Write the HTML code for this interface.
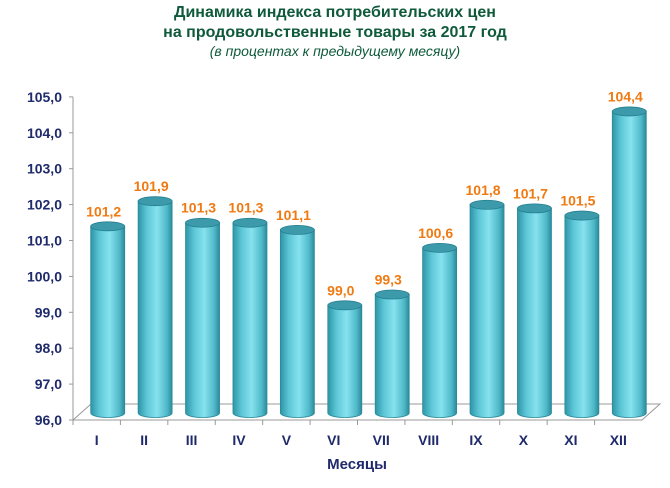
<!DOCTYPE html>
<html><head><meta charset="utf-8"><style>
body{margin:0;background:#fff;}
svg text{font-family:"Liberation Sans",sans-serif;}
</style></head><body>
<svg width="670" height="483">
<defs>
<linearGradient id="cyl" x1="0" x2="1" y1="0" y2="0">
<stop offset="0" stop-color="#2d95a5"/><stop offset="0.25" stop-color="#5cc6d6"/>
<stop offset="0.55" stop-color="#86e2ee"/><stop offset="0.85" stop-color="#4fb8c8"/>
<stop offset="1" stop-color="#2a8a9a"/></linearGradient>
</defs>
<text x="335" y="17" text-anchor="middle" font-size="16" font-weight="bold" fill="#0e5a3a">Динамика индекса потребительских цен</text>
<text x="335" y="37" text-anchor="middle" font-size="16" font-weight="bold" fill="#0e5a3a">на продовольственные товары за 2017 год</text>
<text x="335" y="56" text-anchor="middle" font-size="14" font-style="italic" fill="#0e5a3a">(в процентах к предыдущему месяцу)</text>
<g id="axes"></g>
<g id="bars"></g>
<text x="357" y="469" text-anchor="middle" font-size="15" font-weight="bold" fill="#1f2a6b">Месяцы</text>
</svg>
<script>
const categories=["I","II","III","IV","V","VI","VII","VIII","IX","X","XI","XII"];
const values=[101.2,101.9,101.3,101.3,101.1,99.0,99.3,100.6,101.8,101.7,101.5,104.4];
const labels=["101,2","101,9","101,3","101,3","101,1","99,0","99,3","100,6","101,8","101,7","101,5","104,4"];
const yTicks=[96,97,98,99,100,101,102,103,104,105];
const NS="http://www.w3.org/2000/svg";
const x0=73,x1=642,yMin=96,yMax=105,dx=18,dy=-16;
const cw=(x1-x0)/categories.length;
const yFront=v=>420-(v-yMin)*35.9;
const yBack=v=>yFront(v)-7;
function mk(tag,attrs,parent){const e=document.createElementNS(NS,tag);for(const k in attrs)e.setAttribute(k,attrs[k]);parent.appendChild(e);return e;}
const ax=document.getElementById('axes'),bars=document.getElementById('bars');
let floor=mk('polygon',{points:`${x0},420 ${x1},420 ${x1+dx},${420+dy} ${x0+dx},${420+dy}`,fill:'none',stroke:'#999','stroke-width':1},ax);


let yl=mk('line',{x1:x0,y1:yFront(yMax),x2:x0,y2:420,stroke:'#999'},ax);


yTicks.forEach(t=>{
 const tx=mk('text',{x:62,y:yFront(t)+5,'text-anchor':'end','font-size':14,'font-weight':'bold',fill:'#1f2a6b'},ax);
 tx.textContent=t.toFixed(1).replace('.',',');
 
 
 mk('line',{x1:x0-4,y1:yFront(t),x2:x0,y2:yFront(t),stroke:'#999'},ax);
});
categories.forEach((c,i)=>{
 const tx0=x0+cw*i;
 mk('line',{x1:tx0,y1:420,x2:tx0,y2:425,stroke:'#999'},ax);
 const t=mk('text',{x:tx0+cw/2,y:445,'text-anchor':'middle','font-size':14,'font-weight':'bold',fill:'#1f2a6b'},ax);
 t.textContent=c;
 
 
 const cx=tx0+cw/2+11,rx=17,ry=4.5;
 const top=yBack(values[i]),bot=413;
 const g=mk('g',{},bars);
 
 
 mk('path',{d:`M${cx-rx},${top} L${cx-rx},${bot} A${rx},${ry} 0 0 0 ${cx+rx},${bot} L${cx+rx},${top} Z`,fill:'url(#cyl)',stroke:'#2a8a9a','stroke-width':0.8},g);
 mk('ellipse',{cx:cx,cy:top,rx:rx,ry:ry,fill:'#3d9aab',stroke:'#22808f','stroke-width':0.8},g);
 const l=mk('text',{x:cx-4,y:top-10,'text-anchor':'middle','font-size':14,'font-weight':'bold',fill:'#f07a12'},bars);
 l.textContent=labels[i];
 
 
});
</script>
</body></html>
